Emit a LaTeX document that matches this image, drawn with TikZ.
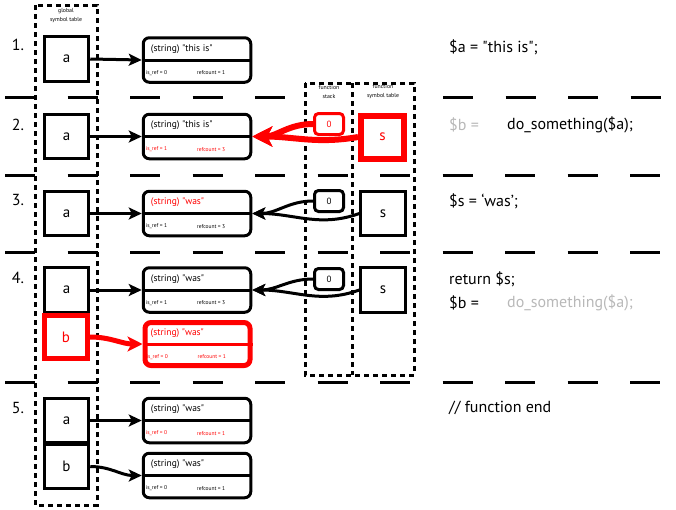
\documentclass[tikz,border=0pt]{standalone}
\usepackage{fontspec}
\setmainfont{PT Sans}
\usetikzlibrary{arrows.meta,positioning}
\definecolor{lgray}{gray}{0.72}

\begin{document}
\begin{tikzpicture}
[x=1pt,y=-1pt,
sym/.style={draw=black,line width=3pt,minimum size=44.5pt,inner sep=0pt,font=\fontsize{15}{15}\selectfont},
symred/.style={draw=red,text=red,line width=5pt,minimum size=43pt,inner sep=0pt,font=\fontsize{15}{15}\selectfont},
zval/.style={draw=black,rounded corners=6pt,line width=3pt,minimum width=107.5pt,minimum height=44.5pt},
zvalred/.style={draw=red,rounded corners=6pt,line width=5pt,minimum width=105pt,minimum height=43pt},
stk/.style={draw=black,rounded corners=4pt,line width=3pt,minimum width=29pt,minimum height=21pt,inner sep=0pt,font=\fontsize{9}{9}\selectfont},
vtitle/.style={anchor=west,inner sep=0pt,xshift=9pt,yshift=11pt,font=\fontsize{9.5}{10}\selectfont},
vref/.style={anchor=west,inner sep=0pt,xshift=4pt,yshift=-13pt,font=\fontsize{5.5}{6}\selectfont},
vcnt/.style={anchor=west,inner sep=0pt,xshift=55pt,yshift=-13pt,font=\fontsize{5.5}{6}\selectfont},
hdr/.style={align=center,inner sep=0pt,font=\fontsize{5.8}{9}\selectfont},
stepno/.style={inner sep=0pt,font=\fontsize{16}{16}\selectfont},
code/.style={anchor=west,inner sep=0pt,font=\fontsize{16}{16}\selectfont},
tbl/.style={draw=black,line width=3pt,dash pattern=on 5pt off 4pt},
sep/.style={draw=black,line width=3pt,dash pattern=on 30pt off 32.5pt},
arr/.style={line width=3pt,-{Stealth[length=13pt,width=12pt,inset=3pt]}},
rarr/.style={draw=red,line width=6pt,-{Stealth[length=20pt,width=20pt,inset=5pt]}},
rarrb/.style={draw=red,line width=5pt,-{Stealth[length=15pt,width=15pt,inset=4pt]}}]
\useasboundingbox (0,0) rectangle (676,509);

% containers
\draw[tbl] (35,5) rectangle (97,505);
\draw[tbl] (305,83) rectangle (414,375);
\draw[tbl] (352,83) -- (352,375);
\node[hdr] (gh) at (66,16) {global\\symbol table};
\node[hdr] (fsh) at (329,92) {function\\stack};
\node[hdr] (fth) at (383,92) {function\\symbol table};

% separators
\draw[sep] (5,97) -- (300,97) (443,97) -- (676,97);
\draw[sep] (5,175) -- (676,175);
\draw[sep] (5,252) -- (676,252);
\draw[sep] (5,382) -- (676,382);

\node[stepno] (n1) at (18,45) {1.};
\node[stepno] (n2) at (18,125) {2.};
\node[stepno] (n3) at (18,200) {3.};
\node[stepno] (n4) at (18,278) {4.};
\node[stepno] (n5) at (18,408) {5.};

% step 1
\node[sym] (a1) at (66.5,59) {a};
\node[zval] (v1) at (197,60) {};
\draw[line width=3pt] (v1.west) -- (v1.east);
\node[vtitle] at (v1.west) {(string) \textquotedbl this is\textquotedbl};
\node[vref] at (v1.west) {is\_ref = 0};
\node[vcnt] at (v1.west) {refcount = 1};
\draw[arr] (a1.east) -- (v1.west);

% step 2
\node[sym] (a2) at (66.5,136.5) {a};
\node[zval] (v2) at (197,136.5) {};
\draw[line width=3pt] (v2.west) -- (v2.east);
\node[vtitle] at (v2.west) {(string) \textquotedbl this is\textquotedbl};
\node[vref,red] at (v2.west) {is\_ref = 1};
\node[vcnt,red] at (v2.west) {refcount = 3};
\node[stk,draw=red,text=red] (z2) at (329,124) {0};
\node[symred,line width=6pt] (s2) at (382.5,137) {s};
\draw[arr] (a2.east) -- (v2.west);
\draw[rarr] (z2.west) to[out=180,in=0] (v2.east);
\draw[rarr] (s2.west) to[out=190,in=0] (v2.east);

% step 3
\node[sym] (a3) at (66.5,213.5) {a};
\node[zval] (v3) at (197,213.5) {};
\draw[line width=3pt] (v3.west) -- (v3.east);
\node[vtitle,red] at (v3.west) {(string) \textquotedbl was\textquotedbl};
\node[vref] at (v3.west) {is\_ref = 1};
\node[vcnt] at (v3.west) {refcount = 3};
\node[stk] (z3) at (329,201) {0};
\node[sym] (s3) at (383,213.5) {s};
\draw[arr] (a3.east) -- (v3.west);
\draw[arr] (z3.west) to[out=180,in=0] (v3.east);
\draw[arr] (s3.west) to[out=200,in=0] (v3.east);

% step 4
\node[sym] (a4) at (66.5,290) {a};
\node[zval] (v4) at (197,290) {};
\draw[line width=3pt] (v4.west) -- (v4.east);
\node[vtitle] at (v4.west) {(string) \textquotedbl was\textquotedbl};
\node[vref] at (v4.west) {is\_ref = 1};
\node[vcnt] at (v4.west) {refcount = 3};
\node[symred] (b4) at (66,337) {b};
\node[zvalred] (v4b) at (197.5,344) {};
\draw[red,line width=3pt] (v4b.west) -- (v4b.east);
\node[vtitle,red,xshift=-1pt] at (v4b.west) {(string) \textquotedbl was\textquotedbl};
\node[vref,red] at (v4b.west) {is\_ref = 0};
\node[vcnt,red] at (v4b.west) {refcount = 1};
\node[stk] (z4) at (329,279) {0};
\node[sym] (s4) at (383,290) {s};
\draw[arr] (a4.east) -- (v4.west);
\draw[arr] (z4.west) to[out=180,in=0] (v4.east);
\draw[arr] (s4.west) to[out=200,in=0] (v4.east);
\draw[rarrb] (b4.east) to[out=0,in=180] (v4b.west);

% step 5
\node[sym] (a5) at (66.5,420.5) {a};
\node[sym] (b5) at (66.5,466.5) {b};
\node[zval] (v5) at (197,420.5) {};
\draw[line width=3pt] (v5.west) -- (v5.east);
\node[vtitle] at (v5.west) {(string) \textquotedbl was\textquotedbl};
\node[vref,red] at (v5.west) {is\_ref = 0};
\node[vcnt,red] at (v5.west) {refcount = 1};
\node[zval] (v5b) at (197,475.5) {};
\draw[line width=3pt] (v5b.west) -- (v5b.east);
\node[vtitle] at (v5b.west) {(string) \textquotedbl was\textquotedbl};
\node[vref] at (v5b.west) {is\_ref = 0};
\node[vcnt] at (v5b.west) {refcount = 1};
\draw[arr] (a5.east) -- (v5.west);
\draw[arr] (b5.east) to[out=0,in=180] (v5b.west);

% code
\node[code] (c1) at (449,47) {\$a = \textquotedbl this is\textquotedbl;};
\node[code,text=lgray] (c2a) at (449,125) {\$b =};
\node[code] (c2b) at (507,125) {do\_something(\$a);};
\node[code] (c3) at (449,201) {\$s = ‘was’;};
\node[code] (c4a) at (449,279) {return \$s;};
\node[code] (c4b) at (449,303) {\$b =};
\node[code,text=lgray] (c4c) at (507,303) {do\_something(\$a);};
\node[code] (c5) at (449,408) {// function end};
\end{tikzpicture}
\end{document}
